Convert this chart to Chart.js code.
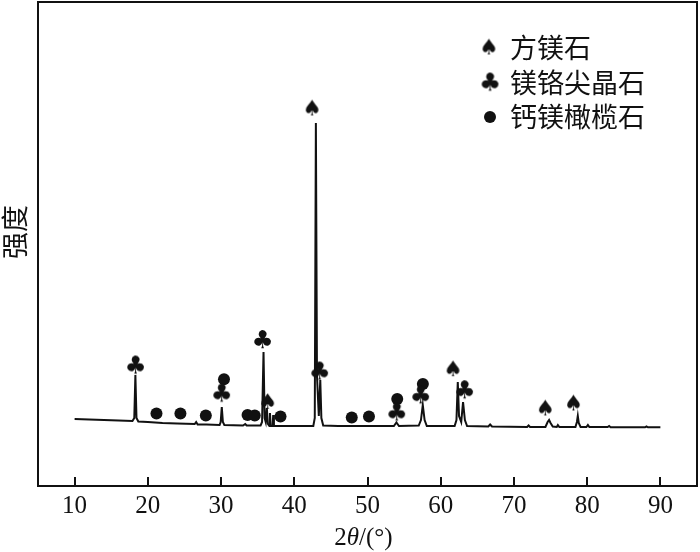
<!DOCTYPE html>
<html>
<head>
<meta charset="utf-8">
<script src="https://cdn.jsdelivr.net/npm/chart.js@4.4.1/dist/chart.umd.min.js"></script>
<style>
  html, body { margin: 0; padding: 0; background: #fff; }
  #wrap { width: 700px; height: 552px; }
</style>
</head>
<body>
<div id="wrap"><canvas id="xrdChart" width="700" height="552"></canvas></div>
<script>
// XRD pattern, 2θ (deg) vs. intensity (a.u.)
const twoTheta = [
    10.0, 12.0, 14.0, 16.0, 17.9, 18.15, 18.3, 18.45, 18.7, 20.0,
    22.0, 24.0, 26.4, 26.6, 26.8, 28.0, 29.8, 29.95, 30.1, 30.25,
    30.45, 33.0, 33.3, 33.5, 35.4, 35.6, 35.8, 35.95, 36.1, 36.25,
    36.4, 36.6, 36.68, 36.78, 37.05, 37.12, 37.22, 38.0, 40.0, 42.6,
    42.8, 42.95, 43.1, 43.35, 43.55, 43.7, 43.95, 46.0, 48.0, 50.0,
    53.6, 53.95, 54.3, 57.0, 57.3, 57.55, 57.8, 58.1, 61.9, 62.15,
    62.33, 62.5, 62.8, 63.05, 63.3, 63.6, 66.5, 66.75, 67.0, 71.8,
    72.0, 72.2, 74.3, 74.6, 74.8, 75.0, 75.3, 75.85, 76.0, 76.2,
    78.4, 78.6, 78.72, 78.85, 79.1, 79.9, 80.1, 80.3, 82.8, 83.0,
    83.2, 87.9, 88.1, 88.3, 90.0
];
const intensity = [
    67, 66.5, 66, 65.5, 65, 68, 111, 68, 64.5, 64,
    63, 62.5, 62, 64, 61.5, 61.5, 61, 64, 79, 64,
    61, 60.5, 62, 60.5, 60.5, 64, 134, 68, 64, 78,
    62, 60, 73, 60, 60, 71, 60, 60, 60, 60,
    68, 363, 110, 70, 106, 68, 60.5, 60, 60, 60,
    60, 63.5, 60, 60.5, 66, 81, 66, 60, 60, 66,
    104, 70, 64, 84, 66, 60, 59.5, 61.5, 59.5, 59,
    60.5, 59, 59, 64, 66, 63, 59.5, 59, 61, 59,
    59, 64, 70, 63, 59, 59, 61, 59, 59, 60,
    58.8, 58.7, 59.5, 58.7, 58.7
];

const xTicks = [10, 20, 30, 40, 50, 60, 70, 80, 90];

// phase markers above the reflections
const spadeX = [36.37, 42.44, 61.69, 74.29, 78.14];
const spadeY = [82.5, 376, 115.3, 76, 81];
const clubX = [18.31, 30.07, 35.66, 43.46, 53.98, 57.25, 63.25];
const clubY = [119, 91, 144.5, 113, 72, 89.3, 94.3];
const dotX = [21.18, 24.45, 27.92, 30.40, 33.62, 34.6, 38.12, 47.85, 50.2, 54.06, 57.56];
const dotY = [72.5, 72.5, 70.5, 106.7, 71, 70.5, 69.5, 68.5, 69.5, 87, 102];

const phaseNames = ['方镁石', '镁铬尖晶石', '钙镁橄榄石'];

const INK = '#111';

function glyphImage(ch, size) {
    const c = document.createElement('canvas');
    c.width = size;
    c.height = size;
    const g = c.getContext('2d');
    g.fillStyle = INK;
    g.font = size * 0.8 + 'px "DejaVu Sans"';
    g.textAlign = 'center';
    g.textBaseline = 'middle';
    g.fillText(ch, size / 2, size / 2);
    return c;
}

const spadeImg = glyphImage('\u2660', 27);
const clubImg = glyphImage('\u2663', 31);

function toPoints(xs, ys) {
    return xs.map((x, i) => ({ x: x, y: ys[i] }));
}

// frame, inward ticks, axis titles and the phase key
const framePlugin = {
    id: 'frame',
    afterDraw(chart) {
        const { ctx, chartArea: a, scales } = chart;
        ctx.save();
        ctx.strokeStyle = INK;
        ctx.lineWidth = 2;
        ctx.strokeRect(a.left, a.top, a.right - a.left, a.bottom - a.top);

        ctx.beginPath();
        xTicks.forEach(v => {
            const px = Math.round(scales.x.getPixelForValue(v));
            ctx.moveTo(px, a.bottom);
            ctx.lineTo(px, a.bottom - 9);
        });
        ctx.stroke();

        // x title: 2θ/(°)
        ctx.fillStyle = INK;
        ctx.textBaseline = 'alphabetic';
        const serif = '25px "Liberation Serif"';
        const serifIt = 'italic 25px "Liberation Serif"';
        const parts = [['2', serif], ['\u03b8', serifIt], ['/(\u00b0)', serif]];
        let total = 0;
        parts.forEach(p => { ctx.font = p[1]; total += ctx.measureText(p[0]).width; });
        let tx = (a.left + a.right) / 2 - 4 - total / 2;
        parts.forEach(p => {
            ctx.font = p[1];
            ctx.fillText(p[0], tx, 545);
            tx += ctx.measureText(p[0]).width;
        });

        // y title
        ctx.save();
        ctx.translate(15, 232);
        ctx.rotate(-Math.PI / 2);
        ctx.font = '27px "Noto Sans CJK SC"';
        ctx.textAlign = 'center';
        ctx.textBaseline = 'middle';
        ctx.fillText('强度', 0, 0);
        ctx.restore();

        // key
        const keyY = [48, 83, 117];
        ctx.drawImage(spadeImg, 489 - spadeImg.width / 2, keyY[0] + 1 - spadeImg.height / 2);
        ctx.drawImage(clubImg, 490 - clubImg.width / 2, keyY[1] + 1 - clubImg.height / 2);
        ctx.beginPath();
        ctx.arc(490, keyY[2], 6, 0, Math.PI * 2);
        ctx.fill();
        ctx.font = '27px "Noto Sans CJK SC"';
        ctx.textAlign = 'left';
        ctx.textBaseline = 'middle';
        phaseNames.forEach((n, i) => ctx.fillText(n, 510, keyY[i]));
        ctx.restore();
    }
};

const ctx = document.getElementById('xrdChart');

new Chart(ctx, {
    type: 'line',
    data: {
        datasets: [
            {
                label: 'XRD',
                data: toPoints(twoTheta, intensity),
                borderColor: INK,
                borderWidth: 2,
                pointRadius: 0,
                tension: 0,
                fill: false,
                order: 10
            },
            {
                type: 'scatter',
                label: phaseNames[0],
                data: toPoints(spadeX, spadeY),
                pointStyle: spadeImg,
                pointRadius: 8,
                order: 0
            },
            {
                type: 'scatter',
                label: phaseNames[1],
                data: toPoints(clubX, clubY),
                pointStyle: clubImg,
                pointRadius: 8,
                order: 0
            },
            {
                type: 'scatter',
                label: phaseNames[2],
                data: toPoints(dotX, dotY),
                pointStyle: 'circle',
                pointRadius: 6,
                borderWidth: 0,
                backgroundColor: INK,
                order: 0
            }
        ]
    },
    options: {
        responsive: false,
        animation: false,
        layout: { autoPadding: false, padding: { top: 2, right: 3, left: 0, bottom: 0 } },
        plugins: {
            legend: { display: false },
            tooltip: { enabled: false }
        },
        scales: {
            x: {
                type: 'linear',
                min: 5,
                max: 95,
                afterBuildTicks: s => { s.ticks = xTicks.map(v => ({ value: v })); },
                afterFit: s => { s.height = 66; },
                grid: { display: false, drawTicks: false },
                border: { display: false },
                ticks: {
                    padding: 5,
                    autoSkip: false,
                    maxRotation: 0,
                    color: INK,
                    font: { family: 'Liberation Serif', size: 25 }
                }
            },
            y: {
                min: 0,
                max: 484,
                afterFit: s => { s.width = 38; },
                ticks: { display: false },
                grid: { display: false, drawTicks: false },
                border: { display: false }
            }
        }
    },
    plugins: [framePlugin]
});
</script>
</body>
</html>
